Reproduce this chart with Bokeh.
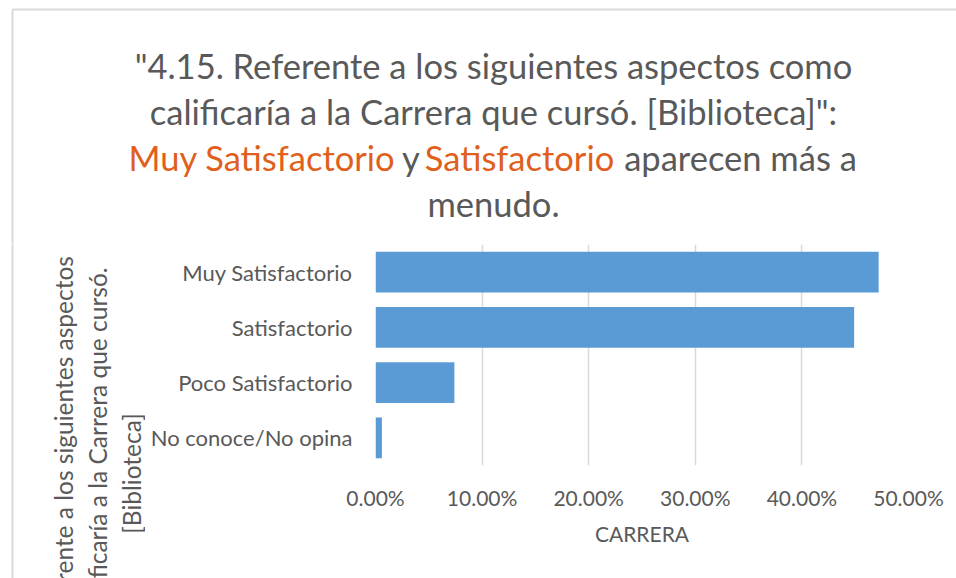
import math
from bokeh.plotting import figure
from bokeh.layouts import column, row
from bokeh.models import (Range1d, FactorRange, FixedTicker, NumeralTickFormatter,
                          ColumnDataSource)
from bokeh.core.properties import value
from bokeh.embed import file_html
from bokeh.resources import INLINE

# ---- data ----
categories = ["Muy Satisfactorio", "Satisfactorio", "Poco Satisfactorio", "No conoce/No opina"]
shares = [0.472, 0.449, 0.074, 0.006]
x_ticks = [0.0, 0.1, 0.2, 0.3, 0.4, 0.5]
x_title = "CARRERA"
y_title_lines = ["4.15. Referente a los siguientes aspectos",
                 "como calificaría a la Carrera que cursó.",
                 "[Biblioteca]"]
title_line1 = '"4.15. Referente a los siguientes aspectos como'
title_line2 = 'calificaría a la Carrera que cursó. [Biblioteca]":'
title_line3 = ["Muy Satisfactorio", "y", "Satisfactorio", "aparecen más a"]
title_line3_highlight = [True, False, True, False]
title_line4 = "menudo."

GRAY = "#595959"
ORANGE = "#E05F1C"
BLUE = "#5B9BD5"
GRID = "#D9D9D9"
FONT = "Lato"

W, H = 956, 578
TOP_H = 244          # height of the title strip
LEFT_W = 145         # width of the strip holding the vertical axis title
FRAME_L, FRAME_R, FRAME_B = 375, 908, 465


def canvas_fig(width, height, y0):
    """A figure whose frame is its whole area, in page pixels (y grows downward)."""
    f = figure(width=width, height=height, output_backend="svg", toolbar_location=None,
               x_axis_type=None, y_axis_type=None, title=None,
               x_range=Range1d(0, width), y_range=Range1d(y0 + height, y0),
               min_border=0, min_border_left=0, min_border_right=0,
               min_border_top=0, min_border_bottom=0, frame_align=False)
    f.outline_line_color = None
    f.background_fill_color = "white"
    f.border_fill_color = "white"
    return f


# ---------- title strip ----------
top = canvas_fig(W, TOP_H, 0)
TS = "34.5px"
top.text(x=[493, 493, 493], y=[65, 111, 203], text=[title_line1, title_line2, title_line4],
         text_align="center", text_baseline="alphabetic", text_font=value(FONT),
         text_font_size=TS, text_color=GRAY)
top.text(x=[261.5, 410.5, 519, 740], y=[157] * 4, text=title_line3,
         text_color=[ORANGE if h else GRAY for h in title_line3_highlight],
         text_align="center", text_baseline="alphabetic", text_font=value(FONT),
         text_font_size=TS)
# chart-area border (cropped at the right and bottom in the reference)
top.line(x=[12, W + 5], y=[9, 9], line_color=GRID, line_width=2)
top.line(x=[12, 12], y=[9, TOP_H + 5], line_color=GRID, line_width=2)

# ---------- vertical axis-title strip ----------
left = canvas_fig(LEFT_W, H - TOP_H, TOP_H)
left.text(x=[63, 97, 131], y=[473] * 3, text=y_title_lines, angle=math.pi / 2,
          text_align="center", text_baseline="middle", text_font=value(FONT),
          text_font_size="24.5px", text_color=GRAY)
left.line(x=[12, 12], y=[TOP_H - 5, H + 5], line_color=GRID, line_width=2)

# ---------- bar chart ----------
p = figure(width=W - LEFT_W, height=H - TOP_H, output_backend="svg", toolbar_location=None,
           title=None,
           y_range=FactorRange(*categories[::-1], range_padding=0),
           x_range=Range1d(0, 0.5),
           min_border_left=FRAME_L - LEFT_W, min_border_right=W - FRAME_R,
           min_border_top=0, min_border_bottom=H - FRAME_B, frame_align=False)
p.outline_line_color = None
p.background_fill_color = "white"
p.border_fill_color = "white"

src = ColumnDataSource(dict(cat=categories, val=shares))
p.hbar(y="cat", right="val", left=0, height=0.74, source=src,
       fill_color=BLUE, line_color=None)

p.ygrid.grid_line_color = None
p.xgrid.ticker = FixedTicker(ticks=x_ticks)
p.xgrid.grid_line_color = GRID
p.xgrid.grid_line_width = 1.5

xa = p.xaxis[0]
xa.ticker = FixedTicker(ticks=x_ticks)
xa.formatter = NumeralTickFormatter(format="0.00%")
xa.axis_line_color = None
xa.major_tick_line_color = None
xa.minor_tick_line_color = None
xa.major_tick_out = 0
xa.major_tick_in = 0
xa.major_label_standoff = 19
xa.major_label_text_font = FONT
xa.major_label_text_font_size = "21px"
xa.major_label_text_color = GRAY
xa.axis_label = x_title
xa.axis_label_text_font = FONT
xa.axis_label_text_font_size = "21px"
xa.axis_label_text_font_style = "normal"
xa.axis_label_text_color = GRAY
xa.axis_label_standoff = 8

ya = p.yaxis[0]
ya.axis_line_color = None
ya.major_tick_line_color = None
ya.minor_tick_line_color = None
ya.major_tick_out = 0
ya.major_tick_in = 0
ya.major_label_standoff = 23
ya.major_label_text_font = FONT
ya.major_label_text_font_size = "22px"
ya.major_label_text_color = GRAY

layout = column(top, row(left, p, spacing=0), spacing=0)

open("out.html", "w").write(file_html(layout, INLINE))
